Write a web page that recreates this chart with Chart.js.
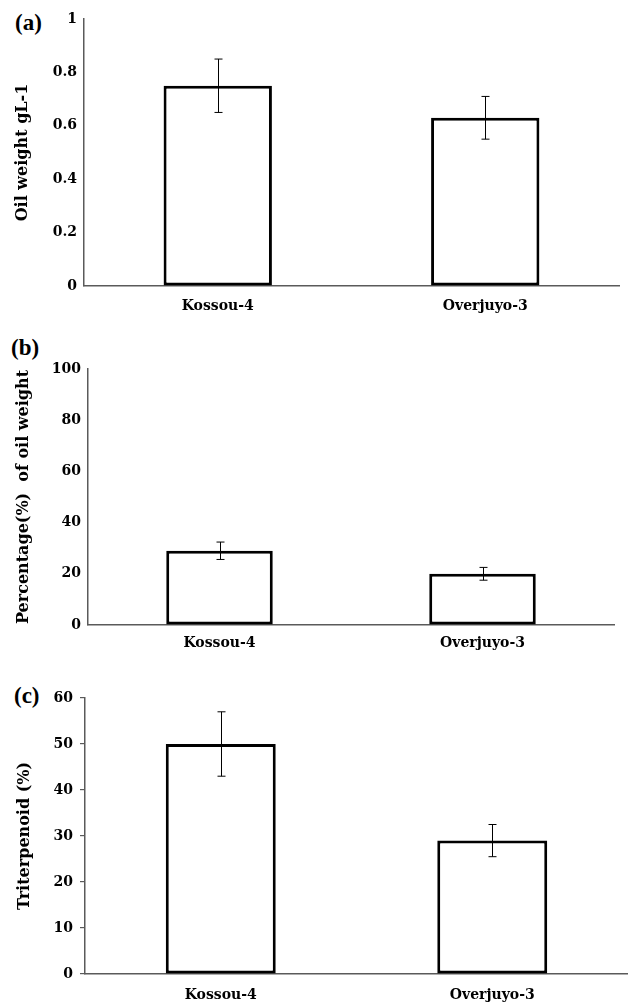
<!DOCTYPE html>
<html>
<head>
<meta charset="utf-8">
<script src="https://cdn.jsdelivr.net/npm/chart.js@4.4.0/dist/chart.umd.min.js"></script>
<style>
  html, body { margin: 0; padding: 0; background: #ffffff; }
  body { width: 628px; height: 1004px; position: relative; overflow: hidden; }
  canvas { position: absolute; left: 0; }
  .plabel { position: absolute; font-family: "Liberation Serif", serif; font-weight: bold; font-size: 23px; color: #000; line-height: 1; }
</style>
</head>
<body>
<div class="plabel" style="left:15px; top:11px;">(a)</div>
<div class="plabel" style="left:11px; top:336px;">(b)</div>
<div class="plabel" style="left:14px; top:684px;">(c)</div>
<canvas id="ca" width="628" height="330" style="top:0px"></canvas>
<canvas id="cb" width="628" height="330" style="top:330px"></canvas>
<canvas id="cc" width="628" height="344" style="top:660px"></canvas>
<script>
// ---- data ----
const categories = ["Kossou-4", "Overjuyo-3"];

const oilWeight = [0.75, 0.63];
const oilWeightErr = [0.10, 0.08];

const oilPercent = [29, 20];
const oilPercentErr = [3.4, 2.5];

const triterpenoid = [50, 29];
const triterpenoidErr = [7, 3.5];

const titleA = "Oil weight gL-1";
const titleB = "Percentage(%)  of oil weight";
const titleC = "Triterpenoid (%)";

// ---- error bar plugin ----
const errorBarPlugin = {
  id: 'errorBars',
  afterDatasetsDraw(chart, args, opts) {
    const errs = opts.errors || [];
    const meta = chart.getDatasetMeta(0);
    const yScale = chart.scales.y;
    const vals = chart.data.datasets[0].data;
    const ctx = chart.ctx;
    ctx.save();
    ctx.strokeStyle = '#000';
    ctx.lineWidth = 1;
    meta.data.forEach((bar, i) => {
      const x = Math.round(bar.x) + 0.5;
      const yTop = yScale.getPixelForValue(vals[i] + errs[i]);
      const yBot = yScale.getPixelForValue(vals[i] - errs[i]);
      const cap = 4;
      ctx.beginPath();
      ctx.moveTo(x, yTop); ctx.lineTo(x, yBot);
      ctx.moveTo(x - cap, yTop); ctx.lineTo(x + cap, yTop);
      ctx.moveTo(x - cap, yBot); ctx.lineTo(x + cap, yBot);
      ctx.stroke();
    });
    ctx.restore();
  }
};

const tickFont = { family: "'DejaVu Serif', serif", weight: 'bold', size: 14 };
const titleFont = { family: "'DejaVu Serif', serif", weight: 'bold', size: 16 };
const axisColor = '#5a5a5a';

function makeChart(id, values, errs, title, yMax, step, cfg) {
  return new Chart(document.getElementById(id), {
    type: 'bar',
    data: {
      labels: categories,
      datasets: [{
        data: values,
        backgroundColor: '#ffffff',
        borderColor: '#000000',
        borderWidth: 3,
        borderSkipped: false,
        barPercentage: 0.405,
        categoryPercentage: 1.0
      }]
    },
    options: {
      responsive: false,
      animation: false,
      devicePixelRatio: 1,
      layout: { padding: { top: cfg.padTop, right: cfg.padRight, left: 0, bottom: 0 } },
      plugins: {
        legend: { display: false },
        tooltip: { enabled: false },
        errorBars: { errors: errs }
      },
      scales: {
        x: {
          grid: { display: false, drawTicks: false },
          border: { display: true, color: axisColor, width: 1.5 },
          ticks: { color: '#000', font: tickFont, padding: cfg.xPad, maxRotation: 0 },
          afterFit(scale) { scale.height = cfg.xHeight; }
        },
        y: {
          min: 0,
          max: yMax,
          grid: { display: true, drawOnChartArea: false, drawTicks: cfg.yTicks, tickLength: 5, color: axisColor, lineWidth: 1.2 },
          border: { display: true, color: axisColor, width: 1.5 },
          ticks: {
            color: '#000', font: tickFont, stepSize: step, padding: cfg.yPad,
            callback: (v) => String(Number(Number(v).toFixed(2)))
          },
          title: { display: true, text: title, color: '#000', font: titleFont, padding: { top: cfg.titlePad, bottom: 0 } },
          afterFit(scale) { scale.width = cfg.yWidth; }
        }
      }
    },
    plugins: [errorBarPlugin]
  });
}

makeChart('ca', oilWeight, oilWeightErr, titleA, 1, 0.2,
  { padTop: 19, padRight: 9, xHeight: 44, xPad: 12, yWidth: 84, yTicks: false, yPad: 7, titlePad: 13 });
makeChart('cb', oilPercent, oilPercentErr, titleB, 100, 20,
  { padTop: 39, padRight: 14, xHeight: 35, xPad: 10, yWidth: 88, yTicks: false, yPad: 7, titlePad: 14 });
makeChart('cc', triterpenoid, triterpenoidErr, titleC, 60, 10,
  { padTop: 38, padRight: 0, xHeight: 30, xPad: 13, yWidth: 85, yTicks: true, yPad: 7, titlePad: 15 });
</script>
</body>
</html>
